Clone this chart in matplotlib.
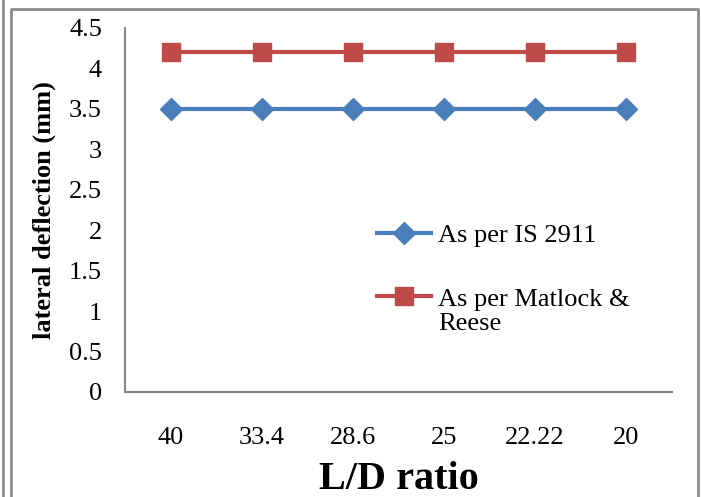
import matplotlib
matplotlib.use("Agg")
import matplotlib.pyplot as plt
from matplotlib.lines import Line2D
from matplotlib.legend_handler import HandlerLine2D

plt.rcParams['font.family'] = ['Liberation Serif', 'DejaVu Serif']

ld_ratio = ["40", "33.4", "28.6", "25", "22.22", "20"]
is_2911 = [3.5, 3.5, 3.5, 3.5, 3.5, 3.5]
matlock_reese = [4.2, 4.2, 4.2, 4.2, 4.2, 4.2]
y_ticks = [0, 0.5, 1, 1.5, 2, 2.5, 3, 3.5, 4, 4.5]
y_tick_labels = ["0", "0.5", "1", "1.5", "2", "2.5", "3", "3.5", "4", "4.5"]


class TopLineHandler(HandlerLine2D):
    """Places the legend key level with the first line of a wrapped label."""

    def __init__(self, shift=0.0, **kw):
        super().__init__(**kw)
        self.shift = shift

    def create_artists(self, legend, orig_handle, xdescent, ydescent,
                       width, height, fontsize, trans):
        return super().create_artists(legend, orig_handle, xdescent,
                                      ydescent - 2 * self.shift, width,
                                      height, fontsize, trans)


W, H = 701, 497
fig = plt.figure(figsize=(W / 100, H / 100), dpi=100)

# outer frame lines
border = "#8c8c8c"
fig.add_artist(Line2D([2.5 / W, 2.5 / W], [0, 1], color=border, lw=2, transform=fig.transFigure))
fig.add_artist(Line2D([10.5 / W, 10.5 / W, 697.5 / W, 697.5 / W],
                      [0, 1 - 8.5 / H, 1 - 8.5 / H, 0],
                      color=border, lw=2, transform=fig.transFigure))

left, right, top, bottom = 125.5, 671.5, 28, 392
ax = fig.add_axes([left / W, 1 - bottom / H, (right - left) / W, (bottom - top) / H])

x = list(range(len(ld_ratio)))
blue = "#4A7EBB"
red = "#BE4B48"
l1, = ax.plot(x, is_2911, color=blue, lw=3, marker="D", markersize=11,
              markeredgecolor=blue, label="As per IS 2911")
l2, = ax.plot(x, matlock_reese, color=red, lw=3, marker="s", markersize=13,
              markeredgecolor=red, label="As per Matlock &\nReese")

ax.set_xlim(-0.5, len(ld_ratio) - 0.5)
ax.set_ylim(0, 4.5)
ax.set_xticks(x)
ax.set_xticklabels(ld_ratio)
ax.set_yticks(y_ticks)
ax.set_yticklabels(y_tick_labels)
ax.tick_params(axis="both", length=0, labelsize=19)
ax.tick_params(axis="y", pad=17)
ax.tick_params(axis="x", pad=25)

for s in ["top", "right"]:
    ax.spines[s].set_visible(False)
for s in ["left", "bottom"]:
    ax.spines[s].set_color("#868686")
    ax.spines[s].set_linewidth(1.5)

ax.set_xlabel("L/D ratio", fontsize=29, fontweight="bold", labelpad=9)
ax.set_ylabel("lateral deflection (mm)", fontsize=19, fontweight="bold", labelpad=9)

fs = 19
leg = ax.legend(handles=[l1, l2],
                loc="upper left",
                bbox_to_anchor=((366.5 - left) / (right - left), (bottom - 213) / (bottom - top)),
                frameon=False, fontsize=fs, handlelength=2.05, handletextpad=0.25,
                labelspacing=1.6, borderaxespad=0,
                handler_map={l2: TopLineHandler(shift=0.6 * fs)})
for t in leg.get_texts():
    t.set_linespacing(1.1)

fig.savefig("out.png", dpi=100)
